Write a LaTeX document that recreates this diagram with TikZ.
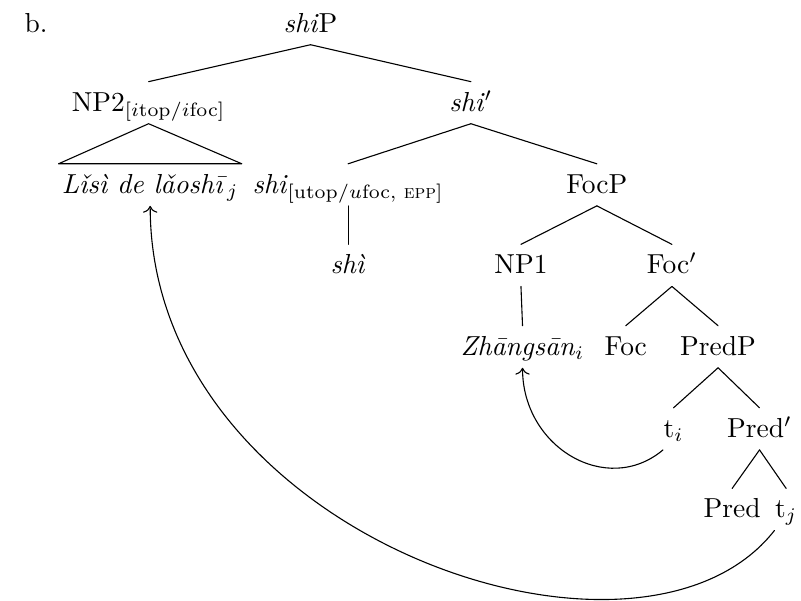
\documentclass[tikz,border=0pt]{standalone}
\usepackage{amsmath}
\usetikzlibrary{arrows.meta}

\begin{document}
\begin{tikzpicture}[>={To},line cap=round,line join=round,
 cat/.style={inner sep=0pt,text height=10.5pt,text depth=4.4pt,anchor=base}]
% Drzewo shiP z dwoma przesunieciami (t_i i t_j).
\useasboundingbox (0,0) rectangle (10.24,-7.68);
\node[anchor=base west] (lab) at (0.19,-0.41) {b.};
\node[cat] (ship) at (3.97,-0.41) {\textit{shi}P};
\node[cat] (np2) at (1.90,-1.42) {NP2$_{[i\mathrm{top}/i\mathrm{foc}]}$};
\node[cat] (shibar) at (6.02,-1.42) {\textit{shi}$'$};
\node[cat,inner xsep=1pt] (lisi) at (1.92,-2.47)
 {\textit{L\v{\i}s\`{\i} de l\v{a}osh\={\i}}$_j$};
\node[cat] (shihead) at (4.45,-2.47)
 {\textit{shi}$_{[\mathrm{utop}/u\mathrm{foc}\text{, \textsc{epp}}]}$};
\node[cat] (focp) at (7.63,-2.47) {FocP};
\node[cat] (shiword) at (4.45,-3.50) {\textit{sh\`{\i}}};
\node[cat] (np1) at (6.66,-3.50) {NP1};
\node[cat] (focbar) at (8.59,-3.50) {Foc$'$};
\node[cat] (zs) at (6.68,-4.54) {\textit{Zh\={a}ngs\={a}n}$_i$};
\node[cat] (foc) at (8.00,-4.54) {Foc};
\node[cat] (predp) at (9.18,-4.54) {PredP};
\node[cat] (ti) at (8.61,-5.59) {t$_i$};
\node[cat] (predbar) at (9.71,-5.59) {Pred$'$};
\node[cat] (pred) at (9.36,-6.62) {Pred};
\node[cat] (tj) at (10.05,-6.62) {t$_j$};
\draw (ship.south) -- (np2.north);
\draw (ship.south) -- (shibar.north);
\draw (np2.south) -- (lisi.north west) -- (lisi.north east) -- cycle;
\draw (shibar.south) -- (shihead.north);
\draw (shibar.south) -- (focp.north);
\draw (shihead.south) -- (shiword.north);
\draw (focp.south) -- (np1.north);
\draw (focp.south) -- (focbar.north);
\draw (np1.south) -- (zs.north);
\draw (focbar.south) -- (foc.north);
\draw (focbar.south) -- (predp.north);
\draw (predp.south) -- (ti.north);
\draw (predp.south) -- (predbar.north);
\draw (predbar.south) -- (pred.north);
\draw (predbar.south) -- (tj.north);
\draw[->] (ti.south west)
 to[out=-140,in=-90,out looseness=1.15,in looseness=1.25] (zs.south);
\draw[->] (tj.south west)
 to[out=-128,in=-90,out looseness=0.8,in looseness=1.2] (lisi.south);
\end{tikzpicture}
\end{document}
